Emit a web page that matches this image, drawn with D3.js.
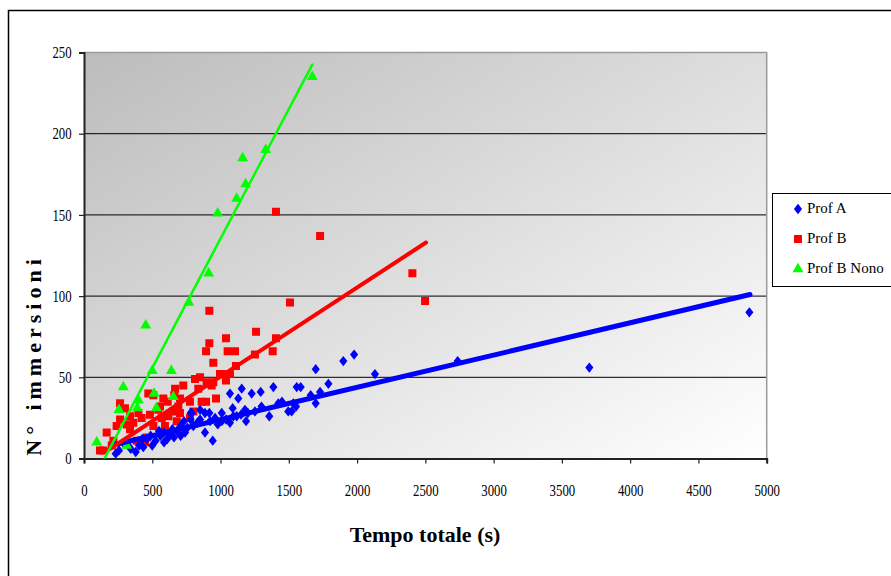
<!DOCTYPE html>
<meta charset="utf-8">
<title>N° immersioni vs Tempo totale</title>
<style>
html, body { margin: 0; padding: 0; background: #fff; }
svg { display: block; }
</style>
<body>
<svg width="891" height="576"></svg>
<script src="https://cdn.jsdelivr.net/npm/d3@7"></script>
<script>

// values: [tempo totale (s), n° immersioni]
var profA = [
  [232,3],[256,5],[293,9],[320,10],[342,6],[379,4],[403,8],[427,12],[434,7],[460,12],
  [488,14],[500,8],[525,11],[549,17],[560,14],[586,10],[586,16],[610,12],[630,15],[647,18],
  [659,13],[680,17],[708,14],[708,20],[732,23],[740,16],[757,19],[781,24],[781,28],[789,28],
  [801,20],[830,22],[850,24],[850,30],[886,16],[886,28],[918,28],[923,23],[943,11],[960,25],
  [980,21],[1009,23],[1009,28],[1040,24],[1069,22],[1069,40],[1089,31],[1094,26],[1118,26],[1130,37],
  [1150,27],[1155,43],[1179,30],[1187,23],[1200,28],[1228,40],[1252,29],[1294,41],[1300,32],[1357,26],
  [1387,44],[1423,34],[1450,35],[1496,29],[1521,29],[1533,34],[1553,32],[1558,44],[1587,44],[1660,39],
  [1697,34],[1697,55],[1729,41],[1790,46],[1899,60],[1978,64],[2131,52],[2737,60],[3701,56],[4873,90]
];

var profB = [
  [117,5],[141,5],[166,16],[203,8],[215,11],[239,20],[264,24],[264,34],[300,31],[313,21],
  [337,18],[337,26],[361,22],[386,11],[398,28],[422,25],[447,10],[459,13],[471,40],[483,27],
  [508,20],[508,39],[544,30],[557,32],[569,25],[581,37],[593,20],[613,35],[618,26],[654,29],
  [661,39],[667,43],[679,23],[691,32],[703,28],[703,37],[727,45],[776,25],[776,35],[801,29],
  [813,49],[837,43],[850,50],[862,35],[894,35],[898,47],[923,46],[935,45],[947,47],[947,59],
  [967,37],[894,66],[918,71],[918,91],[996,52],[1033,52],[1040,48],[1040,74],[1052,66],[1069,52],
  [1106,66],[1113,57],[1252,64],[1260,78],[1382,66],[1406,74],[1406,152],[1509,96],[1729,137],[2405,114],
  [2498,97]
];

var profBNono = [
  [93,10],[256,30],[288,44],[313,8],[390,31],[398,36],[452,82],[500,54],[513,40],[530,31],
  [640,54],[654,38],[767,96],[913,114],[979,151],[1118,160],[1162,185],[1184,169],[1331,190],[1672,235]
];

// linear trend lines, start and end points
var trendA = [[212,8.3],[4878,101]];
var trendB = [[154,4],[2505,133]];
var trendNono = [[150,0],[1672,242.5]];

var xTicks = [0,500,1000,1500,2000,2500,3000,3500,4000,4500,5000];
var yTicks = [0,50,100,150,200,250];
var seriesNames = ["Prof A", "Prof B", "Prof B Nono"];

var serif = "'Liberation Serif', 'Times New Roman', serif";

var svg = d3.select("svg");

var x = d3.scaleLinear().domain([0, 5000]).range([84, 766.7]);
var y = d3.scaleLinear().domain([0, 250]).range([458.5, 52.5]);

// outer chart frame (runs off the picture on right and bottom)
svg.append("rect")
  .attr("x", 8.5).attr("y", 10.5)
  .attr("width", 920).attr("height", 620)
  .attr("fill", "#fff")
  .attr("stroke", "#000")
  .attr("stroke-width", 1.5);

var defs = svg.append("defs");
var grad = defs.append("linearGradient")
  .attr("id", "bg")
  .attr("x1", 0).attr("y1", 0).attr("x2", 1).attr("y2", 1);
grad.append("stop").attr("offset", 0).attr("stop-color", "#bcbcbc");
grad.append("stop").attr("offset", 1).attr("stop-color", "#ffffff");

defs.append("clipPath").attr("id", "plotclip")
  .append("rect")
  .attr("x", x(0)).attr("y", y(250))
  .attr("width", x(5000) - x(0)).attr("height", y(0) - y(250));

// plot area
svg.append("rect")
  .attr("x", x(0)).attr("y", y(250))
  .attr("width", x(5000) - x(0)).attr("height", y(0) - y(250))
  .attr("fill", "url(#bg)");

// gridlines
svg.append("g")
  .selectAll("line")
  .data(yTicks.filter(function(d) { return d > 0 && d < 250; }))
  .enter().append("line")
  .attr("x1", x(0)).attr("x2", x(5000))
  .attr("y1", function(d) { return y(d); })
  .attr("y2", function(d) { return y(d); })
  .attr("stroke", "#000")
  .attr("stroke-width", 1);

// top and right edges of plot area
svg.append("path")
  .attr("d", "M" + x(0) + "," + y(250) + "H" + x(5000) + "V" + y(0))
  .attr("fill", "none")
  .attr("stroke", "#9a9a9a")
  .attr("stroke-width", 1.5);

// axes
var xAxis = svg.append("g")
  .attr("transform", "translate(0," + y(0) + ")")
  .call(d3.axisBottom(x).tickValues(xTicks).tickSize(5).tickPadding(21).tickFormat(d3.format("d")));
var yAxis = svg.append("g")
  .attr("transform", "translate(" + x(0) + ",0)")
  .call(d3.axisLeft(y).tickValues(yTicks).tickSize(5).tickPadding(8).tickFormat(d3.format("d")));

[xAxis, yAxis].forEach(function(ax) {
  ax.attr("font-family", serif).attr("font-size", 16);
  ax.select(".domain").attr("stroke", "#222").attr("stroke-width", 2);
  ax.selectAll(".tick line").attr("stroke", "#222").attr("stroke-width", 1.2);
});
// the tick labels in the original are a narrow, tall Times
xAxis.selectAll(".tick text").attr("fill", "#000")
  .attr("transform", "scale(0.8,1)");
yAxis.selectAll(".tick text").attr("fill", "#000")
  .attr("transform", "translate(-2,0) scale(0.8,1)");

var plot = svg.append("g").attr("clip-path", "url(#plotclip)");

var diamond = d3.symbol().type(d3.symbolDiamond).size(34);
var square = d3.symbol().type(d3.symbolSquare).size(64);
var triangle = d3.symbol().type(d3.symbolTriangle).size(52);
var diamondStretch = " scale(1.3,0.95)";

function drawPoints(data, sym, color) {
  plot.append("g")
    .selectAll("path")
    .data(data)
    .enter().append("path")
    .attr("d", sym)
    .attr("transform", function(d) {
      return "translate(" + x(d[0]) + "," + y(d[1]) + ")" + (sym === diamond ? diamondStretch : "");
    })
    .attr("fill", color);
}

drawPoints(profB, square, "#ff0000");
drawPoints(profA, diamond, "#0000ff");
drawPoints(profBNono, triangle, "#00ff00");

var line = d3.line()
  .x(function(d) { return x(d[0]); })
  .y(function(d) { return y(d[1]); });

function drawTrend(data, color, w) {
  plot.append("path")
    .datum(data)
    .attr("d", line)
    .attr("fill", "none")
    .attr("stroke", color)
    .attr("stroke-width", w)
    .attr("stroke-linecap", "round");
}

drawTrend(trendA, "#0000ff", 5);
drawTrend(trendB, "#ff0000", 4);
drawTrend(trendNono, "#00ff00", 2.5);

// axis titles
svg.append("text")
  .attr("x", 425).attr("y", 542)
  .attr("text-anchor", "middle")
  .style("font-family", serif)
  .style("font-size", "22px")
  .style("font-weight", "bold")
  .text("Tempo totale (s)");

svg.append("text")
  .attr("transform", "translate(41,355) rotate(-90)")
  .attr("text-anchor", "middle")
  .style("font-family", serif)
  .style("font-size", "22px")
  .style("font-weight", "bold")
  .style("letter-spacing", "5px")
  .text("N° immersioni");

// legend
var legend = svg.append("g");
legend.append("rect")
  .attr("x", 772.5).attr("y", 193.5)
  .attr("width", 130).attr("height", 93)
  .attr("fill", "#fff")
  .attr("stroke", "#000")
  .attr("stroke-width", 1);

var legendSyms = [diamond, square, triangle];
var legendColors = ["#0000ff", "#ff0000", "#00ff00"];
var legendY = d3.scalePoint().domain(seriesNames).range([208, 268]);

var item = legend.selectAll("g.item")
  .data(seriesNames)
  .enter().append("g")
  .attr("class", "item")
  .attr("transform", function(d) { return "translate(0," + legendY(d) + ")"; });

item.append("path")
  .attr("d", function(d, i) { return legendSyms[i](); })
  .attr("transform", function(d, i) { return "translate(798,1)" + (i === 0 ? diamondStretch : ""); })
  .attr("fill", function(d, i) { return legendColors[i]; });

item.append("text")
  .attr("x", 807).attr("y", 5)
  .style("font-family", serif)
  .style("font-size", "15px")
  .text(function(d) { return d; });

</script>
</body>
